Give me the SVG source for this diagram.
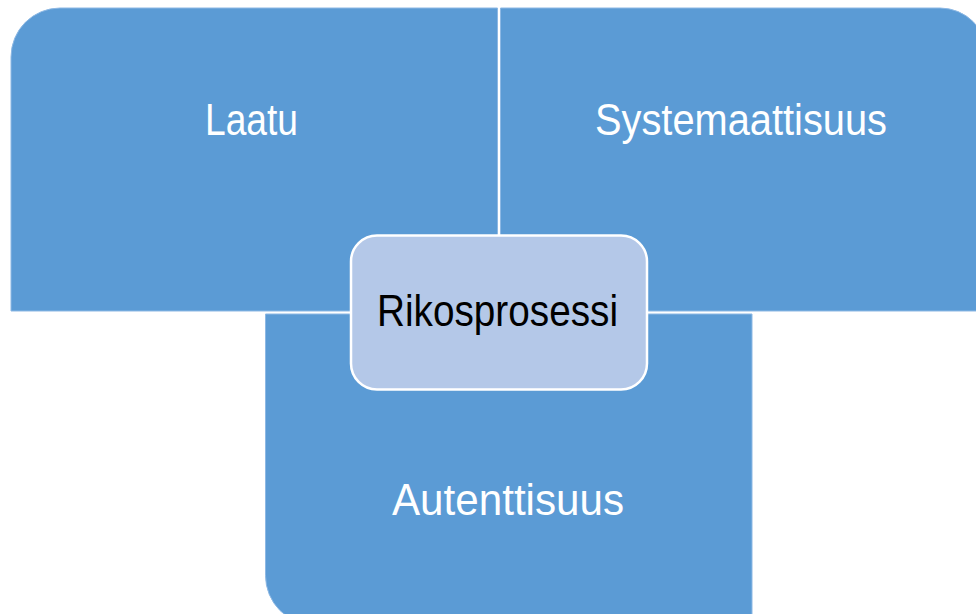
<svg xmlns="http://www.w3.org/2000/svg" width="976" height="614" viewBox="0 0 976 614">
<style>
.blk{fill:#5B9BD5;stroke:#8DB8E4;stroke-width:1}
.lbl{font-family:"Liberation Sans",Arial,sans-serif;font-size:45px;fill:#FFFFFF;text-anchor:middle}
.ctr{fill:#B4C8E8;stroke:#FFFFFF;stroke-width:2.5}
.ctrl{font-family:"Liberation Sans",Arial,sans-serif;font-size:45px;fill:#000000;text-anchor:middle}
</style>
<rect width="976" height="614" fill="#FFFFFF"/>
<g id="laatu">
<path class="blk" d="M11,311 V57 A49,49 0 0 1 60,8 H497.5 V311 Z"/>
<text class="lbl" x="251.5" y="135" textLength="93" lengthAdjust="spacingAndGlyphs">Laatu</text>
</g>
<g id="systemaattisuus">
<path class="blk" d="M500.5,311 V8 H940 A47,47 0 0 1 987,55 V311 Z"/>
<text class="lbl" x="741" y="135" textLength="292" lengthAdjust="spacingAndGlyphs">Systemaattisuus</text>
</g>
<g id="autenttisuus">
<path class="blk" d="M265.5,314 H752 V625 H315 A49.5,49.5 0 0 1 265.5,575.5 Z"/>
<text class="lbl" x="508" y="515" textLength="232" lengthAdjust="spacingAndGlyphs">Autenttisuus</text>
</g>
<g id="connectors"></g>
<g id="rikosprosessi">
<rect class="ctr" x="351" y="235.5" width="296" height="154" rx="26" ry="26"/>
<text class="ctrl" x="497.5" y="326" textLength="241" lengthAdjust="spacingAndGlyphs">Rikosprosessi</text>
</g>
</svg>
